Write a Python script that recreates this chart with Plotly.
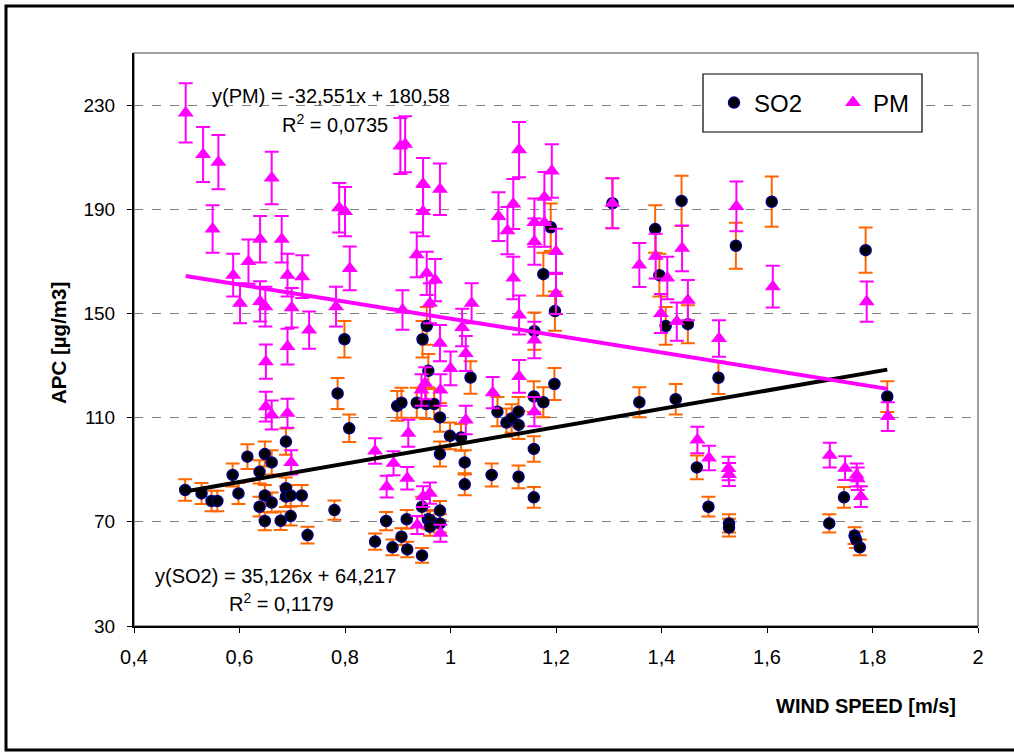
import plotly.graph_objects as go

# ---------------- data ----------------
so2_x = [0.497, 0.528, 0.547, 0.558, 0.587, 0.598, 0.615, 0.638, 0.638, 0.648,
         0.648, 0.648, 0.661, 0.661, 0.678, 0.688, 0.688, 0.688, 0.697, 0.697,
         0.718, 0.729, 0.780, 0.786, 0.799, 0.808, 0.857, 0.878, 0.890, 0.899,
         0.907, 0.907, 0.917, 0.918, 0.936, 0.946, 0.946, 0.947, 0.954, 0.955,
         0.957, 0.958, 0.961, 0.961, 0.969, 0.980, 0.980, 0.980, 0.980, 0.999,
         1.020, 1.027, 1.027, 1.038, 1.078, 1.089, 1.106, 1.116, 1.129, 1.129,
         1.129, 1.158, 1.158, 1.158, 1.159, 1.176, 1.176, 1.190, 1.197, 1.198,
         1.307, 1.358, 1.388, 1.396, 1.408, 1.427, 1.438, 1.450, 1.467, 1.489,
         1.508, 1.528, 1.528, 1.541, 1.609, 1.718, 1.746, 1.766, 1.769, 1.776,
         1.787, 1.828]
so2_y = [82.2, 80.9, 78.0, 78.0, 88.0, 80.9, 95.0, 89.2, 75.8, 96.0,
         80.1, 70.3, 92.8, 77.4, 70.4, 100.8, 82.9, 79.7, 80.1, 72.2,
         80.1, 64.9, 74.5, 119.3, 140.1, 105.9, 62.4, 70.3, 60.2, 114.5,
         115.7, 64.3, 71.0, 59.4, 115.7, 57.1, 75.8, 140.1, 115.2, 145.2,
         71.0, 128.0, 70.7, 68.1, 115.2, 110.1, 96.0, 74.3, 69.4, 103.0,
         102.4, 92.8, 84.4, 125.4, 88.0, 112.3, 108.1, 109.7, 112.3, 107.2,
         87.3, 118.1, 98.0, 79.4, 143.2, 115.9, 165.1, 183.1, 122.9, 150.9,
         192.3, 115.9, 182.4, 164.7, 145.2, 117.1, 193.2, 145.9, 90.9, 75.8,
         125.3, 69.4, 67.8, 176.0, 192.9, 69.4, 79.4, 64.7, 63.1, 60.2,
         174.3, 118.1]

pm_x = [0.498, 0.531, 0.549, 0.560, 0.588, 0.601, 0.617, 0.639, 0.639, 0.649,
        0.650, 0.650, 0.661, 0.661, 0.680, 0.691, 0.691, 0.691, 0.698, 0.699,
        0.719, 0.732, 0.783, 0.789, 0.800, 0.809, 0.857, 0.879, 0.892, 0.905,
        0.914, 0.909, 0.918, 0.920, 0.936, 0.937, 0.945, 0.948, 0.948, 0.948,
        0.952, 0.955, 0.961, 0.961, 0.971, 0.980, 0.980, 0.981, 0.981, 1.000,
        1.022, 1.029, 1.029, 1.040, 1.080, 1.091, 1.108, 1.119, 1.119, 1.130,
        1.130, 1.130, 1.159, 1.159, 1.159, 1.159, 1.178, 1.178, 1.192, 1.200,
        1.200, 1.307, 1.358, 1.389, 1.399, 1.411, 1.429, 1.439, 1.450, 1.468,
        1.490, 1.509, 1.527, 1.528, 1.542, 1.611, 1.719, 1.748, 1.770, 1.772,
        1.778, 1.789, 1.829]
pm_y = [227.0, 211.0, 182.4, 208.1, 164.7, 153.9, 169.9, 178.5, 154.6, 152.6,
        131.5, 114.2, 202.0, 111.0, 178.5, 164.7, 137.3, 111.7, 92.8, 152.2,
        164.1, 143.6, 152.6, 190.6, 189.1, 167.3, 97.2, 83.5, 92.5, 214.3,
        215.0, 151.3, 86.7, 104.0, 172.5, 68.8, 120.6, 199.7, 189.1, 79.7,
        123.2, 165.4, 153.9, 81.0, 162.8, 197.7, 138.6, 120.6, 65.6, 128.9,
        144.6, 134.6, 109.1, 153.9, 119.6, 187.2, 181.8, 192.0, 163.6, 212.9,
        149.4, 125.8, 184.9, 177.6, 139.8, 112.3, 194.6, 184.9, 204.7, 173.8,
        157.7, 192.3, 168.6, 172.0, 150.0, 163.6, 146.9, 175.0, 155.1, 101.4,
        94.5, 140.4, 90.5, 88.2, 191.1, 160.3, 95.6, 90.6, 88.0, 86.5,
        79.7, 154.5, 110.4]

error_percent = 5

# linear trend coefficients as printed on the chart
so2_slope, so2_intercept, so2_r2 = 35.126, 64.217, "0,1179"
pm_slope, pm_intercept, pm_r2 = -32.551, 180.58, "0,0735"

x_ticks = [0.4, 0.6, 0.8, 1.0, 1.2, 1.4, 1.6, 1.8, 2.0]
x_tick_labels = ["0,4", "0,6", "0,8", "1", "1,2", "1,4", "1,6", "1,8", "2"]
y_ticks = [30, 70, 110, 150, 190, 230]
y_tick_labels = ["30", "70", "110", "150", "190", "230"]

# ---------------- figure ----------------
FONT = "Liberation Sans, Arial, sans-serif"
ORANGE = "#FF6600"
MAGENTA = "#FF00FF"

fig = go.Figure()

fig.add_trace(go.Scatter(
    x=so2_x, y=so2_y, mode="markers", name="SO2",
    marker=dict(symbol="circle", size=11, color="black",
                line=dict(color="#000080", width=1.5)),
    error_y=dict(type="percent", value=error_percent, color=ORANGE,
                 thickness=2, width=7),
))
fig.add_trace(go.Scatter(
    x=pm_x, y=pm_y, mode="markers", name="PM",
    marker=dict(symbol="triangle-up", size=14, color=MAGENTA,
                line=dict(color=MAGENTA, width=0)),
    error_y=dict(type="percent", value=error_percent, color=MAGENTA,
                 thickness=2, width=7),
))

so2_lx = [min(so2_x), max(so2_x)]
pm_lx = [min(pm_x), max(pm_x)]
fig.add_trace(go.Scatter(
    x=so2_lx, y=[so2_slope * v + so2_intercept for v in so2_lx],
    mode="lines", line=dict(color="black", width=4), showlegend=False,
    hoverinfo="skip"))
fig.add_trace(go.Scatter(
    x=pm_lx, y=[pm_slope * v + pm_intercept for v in pm_lx],
    mode="lines", line=dict(color=MAGENTA, width=4), showlegend=False,
    hoverinfo="skip"))

W, H = 1014, 752
L, R, T, B = 134, 978, 53, 626


def px(xp):
    return (xp - L) / (R - L)


def py(yp):
    return (B - yp) / (B - T)


def fmt(v):
    return f"{v}".replace(".", ",")


annotations = [
    dict(text=f"y(PM) = {fmt(pm_slope)}x + {fmt(pm_intercept)}",
         x=px(210), y=py(96), xanchor="left", yanchor="middle"),
    dict(text=f"R<sup>2</sup> = {pm_r2}",
         x=px(280), y=py(123), xanchor="left", yanchor="middle"),
    dict(text=f"y(SO2) = {fmt(so2_slope)}x + {fmt(so2_intercept)}",
         x=px(153), y=py(576), xanchor="left", yanchor="middle"),
    dict(text=f"R<sup>2</sup> = {so2_r2}",
         x=px(227), y=py(602), xanchor="left", yanchor="middle"),
]
for a in annotations:
    a.update(xref="paper", yref="paper", showarrow=False,
             font=dict(family=FONT, size=20, color="black"))

annotations.append(dict(text="<b>WIND SPEED [m/s]</b>", xref="paper", yref="paper",
                        x=px(958), y=py(706), xanchor="right", yanchor="middle",
                        showarrow=False, font=dict(family=FONT, size=20, color="black")))
annotations.append(dict(text="<b>APC [µg/m3]</b>", xref="paper", yref="paper",
                        x=px(58), y=py(343), xanchor="center", yanchor="middle",
                        textangle=-90, showarrow=False,
                        font=dict(family=FONT, size=20.5, color="black")))

shapes = [
    # plot-area frame (gray top/right)
    dict(type="rect", xref="paper", yref="paper", x0=0, y0=0, x1=1, y1=1,
         line=dict(color="#808080", width=1.5), layer="below"),
    # legend box
    dict(type="rect", xref="paper", yref="paper",
         x0=px(703), y0=py(132), x1=px(922), y1=py(74),
         line=dict(color="black", width=1.2), fillcolor="white", layer="above"),
    # outer chart frame
    dict(type="rect", xref="paper", yref="paper",
         x0=px(6), y0=py(750), x1=px(1016), y1=py(6),
         line=dict(color="black", width=3), layer="above"),
]

fig.update_layout(
    width=W, height=H,
    margin=dict(l=L, r=W - R, t=T, b=H - B, pad=0),
    paper_bgcolor="white", plot_bgcolor="white",
    font=dict(family=FONT, size=19, color="black"),
    showlegend=True,
    legend=dict(x=px(714), y=py(103), xanchor="left", yanchor="middle",
                orientation="h", bgcolor="rgba(0,0,0,0)", borderwidth=0,
                entrywidth=74, entrywidthmode="pixels",
                font=dict(family=FONT, size=24, color="black"),
                itemsizing="trace"),
    annotations=annotations,
    shapes=shapes,
    xaxis=dict(range=[0.4, 2.0], tickvals=x_ticks, ticktext=x_tick_labels,
               ticks="outside", ticklen=5, tickwidth=1, tickcolor="black",
               showline=True, linecolor="black", linewidth=2,
               showgrid=False, zeroline=False, ticklabelstandoff=7,
               tickfont=dict(family=FONT, size=20, color="black")),
    yaxis=dict(range=[30, 250], tickvals=y_ticks, ticktext=y_tick_labels,
               ticks="outside", ticklen=5, tickwidth=1, tickcolor="black",
               showline=True, linecolor="black", linewidth=2,
               showgrid=True, gridcolor="#808080", gridwidth=1, griddash="dash",
               zeroline=False, ticklabelstandoff=8,
               tickfont=dict(family=FONT, size=19, color="black")),
)

fig.write_html("out.html",
               config={"displayModeBar": False},
               post_script="document.body.style.margin='0';"
                           "document.body.style.overflow='hidden';")
